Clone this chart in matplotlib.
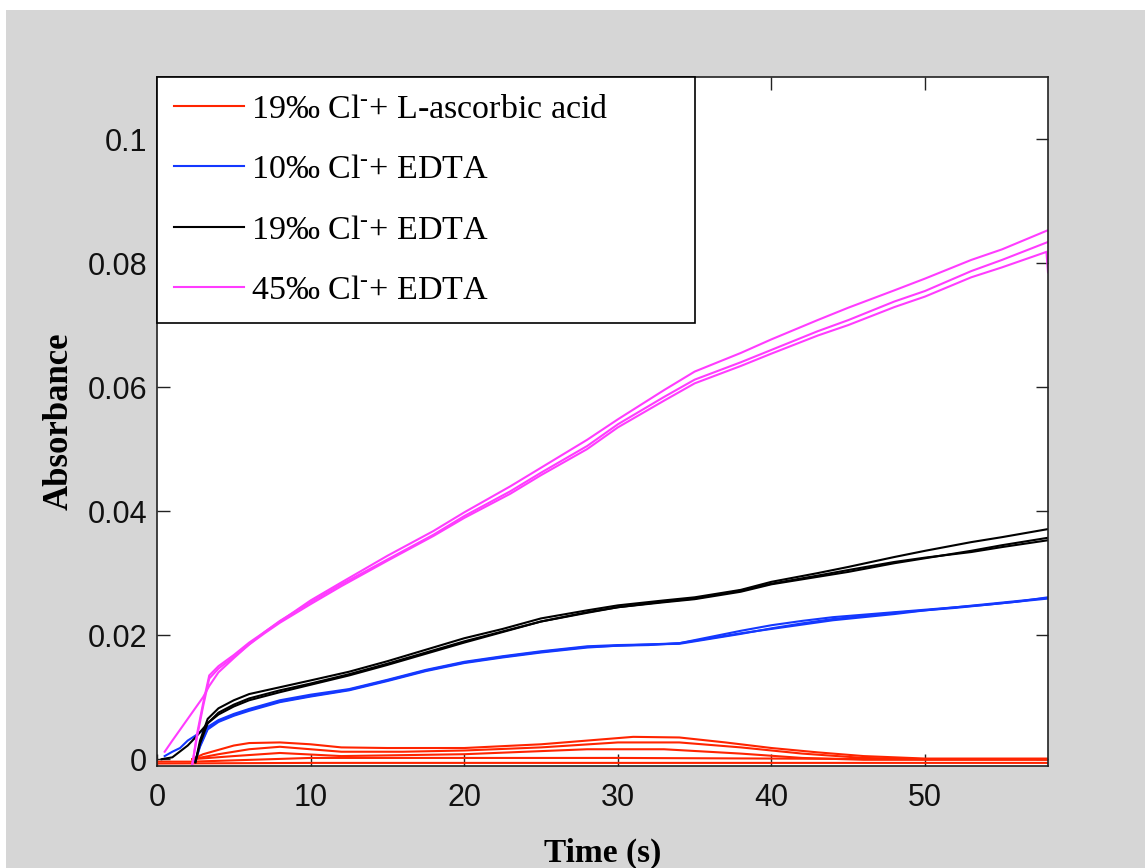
import matplotlib
matplotlib.use("Agg")
import matplotlib.pyplot as plt
from matplotlib.patches import Rectangle

plt.rcParams["mathtext.fontset"] = "custom"
plt.rcParams["mathtext.rm"] = "Liberation Serif"
plt.rcParams["mathtext.it"] = "Liberation Serif:italic"
plt.rcParams["mathtext.bf"] = "Liberation Serif:bold"

# ---- 19‰ Cl- + L-ascorbic acid (five replicates) ----
red_t1 = [2.3, 3, 4, 5, 6, 8, 10, 12, 15, 20, 25, 28, 31, 34, 37, 40, 43, 46, 50, 55, 58]
red_y1 = [0.0, 0.0008, 0.0015, 0.0022, 0.0026, 0.0027, 0.0024, 0.0019, 0.0018, 0.0018,
          0.0024, 0.0030, 0.0036, 0.0035, 0.0027, 0.0018, 0.0011, 0.0005, 0.0001, 0.0001, 0.0001]
red_t2 = [2.3, 4, 6, 8, 12, 16, 20, 25, 30, 34, 38, 42, 46, 50, 58]
red_y2 = [0.0, 0.0008, 0.0016, 0.0020, 0.0012, 0.0012, 0.0014, 0.0019, 0.0027, 0.0027,
          0.0019, 0.0009, 0.0002, 0.0, 0.0]
red_t3 = [2.3, 5, 8, 12, 20, 28, 33, 38, 42, 46, 58]
red_y3 = [0.0, 0.0005, 0.0010, 0.0005, 0.0008, 0.0016, 0.0016, 0.0009, 0.0002, -0.0001, -0.0001]
red_t4 = [0.0, 2.3, 10, 20, 30, 40, 50, 58]
red_y4 = [-0.0004, -0.0004, 0.0002, 0.0002, 0.0002, 0.0001, 0.0, 0.0]
red_t5 = [0.0, 10, 20, 30, 40, 50, 58]
red_y5 = [-0.0007, -0.0006, -0.0006, -0.0006, -0.0006, -0.0006, -0.0006]

# ---- 10‰ Cl- + EDTA (three replicates) ----
blue_t1 = [0.5, 1, 1.5, 2, 2.5, 3.3, 4, 5, 6, 8, 10, 12.5, 15, 17.5, 20, 22.5, 25, 28, 30,
           32, 34, 36, 38, 40, 42, 44, 46, 48, 50, 52, 54, 56, 58]
blue_y1 = [0.0005, 0.0012, 0.0018, 0.0030, 0.0038, 0.0052, 0.0063, 0.0073, 0.0081, 0.0095,
           0.0104, 0.0113, 0.0128, 0.0144, 0.0157, 0.0166, 0.0174, 0.0182, 0.0184, 0.0185,
           0.0187, 0.0195, 0.0203, 0.0210, 0.0217, 0.0224, 0.0229, 0.0234, 0.0240, 0.0244,
           0.0249, 0.0254, 0.0261]
blue_t2 = [2.5, 2.8, 3.3, 4, 5, 6, 8, 10, 12.5, 15, 17.5, 20, 22.5, 25, 28, 30, 32, 34, 36,
           38, 40, 42, 44, 46, 48, 50, 52, 54, 56, 58]
blue_y2 = [-0.0003, 0.0020, 0.0048, 0.0060, 0.0070, 0.0078, 0.0092, 0.0101, 0.0111, 0.0126,
           0.0142, 0.0155, 0.0164, 0.0172, 0.0180, 0.0183, 0.0184, 0.0187, 0.0197, 0.0207,
           0.0216, 0.0223, 0.0229, 0.0233, 0.0237, 0.0241, 0.0245, 0.0250, 0.0255, 0.0260]
blue_t3 = [2.5, 2.8, 3.3, 4, 5, 6, 8, 10, 12.5, 15, 17.5, 20, 22.5, 25, 28, 30, 32, 34, 36,
           38, 40, 42, 44, 46, 48, 50, 52, 54, 56, 58]
blue_y3 = [-0.0003, 0.0022, 0.0050, 0.0062, 0.0071, 0.0080, 0.0093, 0.0102, 0.0112, 0.0127,
           0.0143, 0.0156, 0.0165, 0.0173, 0.0181, 0.0183, 0.0185, 0.0186, 0.0194, 0.0202,
           0.0211, 0.0219, 0.0226, 0.0231, 0.0236, 0.0240, 0.0245, 0.0249, 0.0254, 0.0259]

# ---- 19‰ Cl- + EDTA (three replicates) ----
black_t1 = [0.3, 1, 2, 2.5, 3.3, 4, 5, 6, 8, 10, 12.5, 15, 20, 22.5, 25, 28, 30, 33, 35, 38,
            40, 43, 45, 48, 50, 53, 55, 58]
black_y1 = [0.0, 0.0003, 0.0022, 0.0035, 0.0058, 0.0072, 0.0085, 0.0095, 0.0108, 0.0120,
            0.0135, 0.0152, 0.0188, 0.0205, 0.0222, 0.0236, 0.0245, 0.0254, 0.0259, 0.0272,
            0.0283, 0.0296, 0.0305, 0.0318, 0.0325, 0.0334, 0.0342, 0.0353]
black_t2 = [2.5, 2.8, 3.3, 4, 5, 6, 8, 10, 12.5, 15, 20, 22.5, 25, 28, 30, 33, 35, 38, 40, 43,
            45, 48, 50, 53, 55, 58]
black_y2 = [-0.0005, 0.0030, 0.0065, 0.0082, 0.0095, 0.0105, 0.0116, 0.0127, 0.0141, 0.0158,
            0.0195, 0.0210, 0.0227, 0.0240, 0.0248, 0.0256, 0.0261, 0.0273, 0.0286, 0.0300,
            0.0310, 0.0326, 0.0336, 0.0350, 0.0358, 0.0371]
black_t3 = [2.5, 2.8, 3.3, 4, 5, 6, 8, 10, 12.5, 15, 20, 22.5, 25, 28, 30, 33, 35, 38, 40, 43,
            45, 48, 50, 53, 55, 58]
black_y3 = [-0.0005, 0.0025, 0.0058, 0.0075, 0.0088, 0.0098, 0.0111, 0.0122, 0.0137, 0.0154,
            0.0190, 0.0206, 0.0222, 0.0237, 0.0245, 0.0253, 0.0258, 0.0270, 0.0282, 0.0294,
            0.0302, 0.0316, 0.0324, 0.0336, 0.0345, 0.0357]

# ---- 45‰ Cl- + EDTA (three replicates) ----
mag_t1 = [0.5, 1, 2, 3, 3.4, 4, 5, 6, 7, 8, 10, 12, 15, 18, 20, 23, 25, 28, 30, 33, 35, 38,
          40, 43, 45, 48, 50, 53, 55, 58]
mag_y1 = [0.0012, 0.0030, 0.0065, 0.0100, 0.0118, 0.0140, 0.0163, 0.0185, 0.0205, 0.0222,
          0.0256, 0.0285, 0.0328, 0.0368, 0.0398, 0.0440, 0.0470, 0.0515, 0.0548, 0.0595,
          0.0625, 0.0655, 0.0677, 0.0708, 0.0728, 0.0756, 0.0775, 0.0805, 0.0822, 0.0853]
mag_t2 = [2.3, 2.6, 3.0, 3.4, 4, 5, 6, 7, 8, 10, 12, 15, 18, 20, 23, 25, 28, 30, 33, 35, 38,
          40, 43, 45, 48, 50, 53, 55, 58]
mag_y2 = [-0.0008, 0.0040, 0.0090, 0.0135, 0.0150, 0.0168, 0.0188, 0.0205, 0.0223, 0.0253,
          0.0282, 0.0322, 0.0362, 0.0392, 0.0432, 0.0462, 0.0505, 0.0540, 0.0584, 0.0612,
          0.0640, 0.0660, 0.0690, 0.0708, 0.0738, 0.0755, 0.0787, 0.0805, 0.0834]
mag_t3 = [2.3, 2.6, 3.0, 3.4, 4, 5, 6, 7, 8, 10, 12, 15, 18, 20, 23, 25, 28, 30, 33, 35, 38,
          40, 43, 45, 48, 50, 53, 55, 57.9, 58]
mag_y3 = [-0.0008, 0.0035, 0.0085, 0.0130, 0.0146, 0.0165, 0.0185, 0.0203, 0.0220, 0.0250,
          0.0279, 0.0320, 0.0360, 0.0389, 0.0428, 0.0458, 0.0500, 0.0535, 0.0578, 0.0606,
          0.0634, 0.0654, 0.0683, 0.0700, 0.0729, 0.0746, 0.0777, 0.0793, 0.0818, 0.0785]

x_ticks = [0, 10, 20, 30, 40, 50]
y_ticks = [0, 0.02, 0.04, 0.06, 0.08, 0.1]
y_tick_labels = ["0", "0.02", "0.04", "0.06", "0.08", "0.1"]

legend_labels = [
    "19\u2030 Cl$^{\\text{-}}$+ L-ascorbic acid",
    "10\u2030 Cl$^{\\text{-}}$+ EDTA",
    "19\u2030 Cl$^{\\text{-}}$+ EDTA",
    "45\u2030 Cl$^{\\text{-}}$+ EDTA",
]

RED = "#ff2400"
BLUE = "#1438ff"
BLACK = "#000000"
MAGENTA = "#ff3cff"
LW = 1.5
SERIF = ["Liberation Serif", "DejaVu Serif"]

FIG_W, FIG_H = 1145, 868
fig = plt.figure(figsize=(FIG_W / 100, FIG_H / 100), dpi=100, facecolor="white")
fig.patches.append(Rectangle((6 / FIG_W, 0), 1, 1 - 10 / FIG_H, transform=fig.transFigure,
                             facecolor="#d6d6d6", edgecolor="none", zorder=-10))

ax_left, ax_right, ax_top, ax_bottom = 157, 1048, 77, 766
ax = fig.add_axes([ax_left / FIG_W, 1 - ax_bottom / FIG_H,
                   (ax_right - ax_left) / FIG_W, (ax_bottom - ax_top) / FIG_H])
ax.set_facecolor("white")

red_sets = [(red_t1, red_y1), (red_t2, red_y2), (red_t3, red_y3), (red_t4, red_y4), (red_t5, red_y5)]
blue_sets = [(blue_t1, blue_y1), (blue_t2, blue_y2), (blue_t3, blue_y3)]
black_sets = [(black_t1, black_y1), (black_t2, black_y2), (black_t3, black_y3)]
mag_sets = [(mag_t1, mag_y1), (mag_t2, mag_y2), (mag_t3, mag_y3)]

handles = []
for sets, color in [(red_sets, RED), (blue_sets, BLUE), (black_sets, BLACK), (mag_sets, MAGENTA)]:
    for i, (t, y) in enumerate(sets):
        ln, = ax.plot(t, y, color=color, lw=LW, solid_joinstyle="miter")
        if i == 0:
            handles.append(ln)

ax.set_xlim(0, 58)
ax.set_ylim(-0.0011, 0.110)
ax.set_xticks(x_ticks)
ax.set_yticks(y_ticks)
ax.set_yticklabels(y_tick_labels)
ax.tick_params(direction="in", length=9, width=1.0, top=True, right=True,
               labelsize=22, colors="#222222")
ax.tick_params(axis="x", pad=12)
ax.tick_params(axis="y", pad=7)
for lab in ax.get_xticklabels() + ax.get_yticklabels():
    lab.set_family(["Liberation Sans", "DejaVu Sans"])
    lab.set_color("#111111")
for sp in ax.spines.values():
    sp.set_color("#222222")
    sp.set_linewidth(1.2)

ax.set_xlabel("Time (s)", family=SERIF, fontweight="bold", fontsize=24, labelpad=18)
ax.set_ylabel("Absorbance", family=SERIF, fontweight="bold", fontsize=25, labelpad=9)

# legend box spans from the axes' top-left corner to x=695, y=322 (pixels)
leg_w = (695 - ax_left) / (ax_right - ax_left)
leg_h = (322 - ax_top) / (ax_bottom - ax_top)
leg = ax.legend(handles, legend_labels, loc="upper left",
                bbox_to_anchor=(0, 1 - leg_h, leg_w, leg_h), mode="expand",
                borderaxespad=0, fancybox=False, framealpha=1, edgecolor="black",
                prop={"family": SERIF, "size": 24.5},
                handlelength=2.05, handletextpad=0.2, labelspacing=0.87, borderpad=0.5)
leg.get_frame().set_linewidth(1.2)
leg.set_zorder(5)

fig.savefig("out.png", dpi=100, facecolor=fig.get_facecolor())
